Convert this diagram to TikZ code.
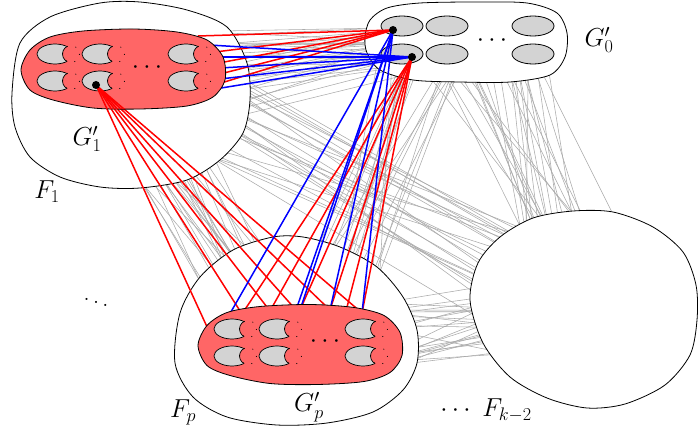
\RequirePackage{fix-cm}
\documentclass[tikz,border=0pt]{standalone}
\definecolor{redfill}{RGB}{255,102,102}
\definecolor{cgray}{RGB}{211,211,211}
\definecolor{meshgray}{RGB}{170,170,170}
\definecolor{lred}{RGB}{255,0,0}
\definecolor{lblue}{RGB}{0,0,255}
\newcommand{\meshset}[9]{%
  \foreach \mi in {1,...,#1}{%
    \pgfmathsetmacro\ax{#2+#3*rnd}\pgfmathsetmacro\ay{#4+#5*rnd}%
    \pgfmathsetmacro\bx{#6+#7*rnd}\pgfmathsetmacro\by{#8+#9*rnd}%
    \draw[mesh] (\ax,\ay) -- (\bx,\by);}}
\newcommand{\redshapepath}[1]{\path[#1] plot[smooth cycle] coordinates {(-103,2) (-94,-18) (-74,-31) (-41,-37) (9,-39) (53,-36) (83,-28) (99,-11) (101,12) (89,29) (63,38) (16,41) (-31,40) (-71,32) (-94,22)};}
\tikzset{cres/.pic={
  \draw[fill=cgray,line width=0.7pt] (0,0) ellipse [x radius=18, y radius=10];
  \fill[redfill] (16,0) circle [radius=8.5];
  \draw[line width=0.7pt,dash pattern=on 0.9pt off 8pt] (16,0) circle [radius=8.5];
  \begin{scope}
    \clip (0,0) ellipse [x radius=18, y radius=10];
    \draw[line width=0.7pt] (16,0) circle [radius=8.5];
  \end{scope}
}}
\begin{document}
\begin{tikzpicture}[x=1pt,y=-1pt,
  blob/.style={draw=black,fill=white,line width=0.8pt},
  mesh/.style={draw=meshgray,line width=0.55pt},
  rl/.style={draw=lred,line width=1.5pt},
  bl/.style={draw=lblue,line width=1.5pt},
  lbl/.style={font=\fontsize{26}{30}\selectfont,inner sep=0pt},
  blackdot/.style={circle,fill=black,inner sep=0pt,minimum size=8pt},
  gell/.style={draw=black,fill=cgray,line width=0.8pt}]
\useasboundingbox (0,0) rectangle (698,433);
\pgfmathsetseed{12345}
% gray mesh between the parts
\meshset{28}{160}{60}{30}{100}{390}{150}{20}{45}
\meshset{25}{100}{95}{110}{55}{215}{90}{290}{90}
\meshset{25}{160}{55}{50}{100}{510}{110}{250}{100}
\meshset{28}{420}{130}{30}{40}{520}{120}{240}{100}
\meshset{20}{380}{90}{30}{40}{270}{110}{285}{75}
\meshset{25}{320}{70}{300}{80}{510}{110}{270}{90}
% blobs
\path[blob] plot[smooth cycle] coordinates {(12,93) (20,43) (50,17) (100,3) (140,2) (187,10) (227,27) (247,63) (250,100) (243,133) (220,160) (187,180) (140,188) (100,187) (60,177) (30,157) (15,127)};
\path[blob] plot[smooth cycle] coordinates {(365,37) (370,20) (387,8) (420,3) (477,2) (527,3) (557,13) (567,33) (565,57) (550,75) (510,82) (460,82) (413,80) (380,70) (367,53)};
\path[blob] plot[smooth cycle] coordinates {(175,363) (180,313) (200,277) (233,250) (273,237) (303,237) (340,247) (377,267) (403,297) (417,330) (417,363) (403,390) (373,412) (327,423) (277,425) (227,417) (193,397)};
\path[blob] plot[smooth cycle] coordinates {(470,300) (478,263) (500,237) (533,218) (573,211) (613,212) (653,227) (683,252) (696,285) (697,320) (690,355) (665,385) (625,404) (587,408) (547,398) (510,377) (483,343)};
% G'_0 vertices
\foreach \cx/\cy in {402/26,447/26,533/26,402/54,447/54,533/54}
  \draw[gell] (\cx,\cy) ellipse [x radius=21, y radius=10];
\node[lbl] (dG0) at (492,41) {$\cdots$};
% coordinates
\coordinate (dA) at (393,30);
\coordinate (dB) at (412,57);
\coordinate (dC) at (96,85);
\foreach \n/\px/\py in {1/198/36,2/209/45,3/215/52,4/218/57,5/219/63,6/220/68,7/220/74,8/220/79,9/218/84,10/215/89}
  \coordinate (a\n) at (\px,\py);
\foreach \n/\px/\py in {1/208/329,2/228/317,3/242/314,4/270/311,5/296/310,6/300/310,7/313/309,8/330/310,9/346/311,10/362/313}
  \coordinate (q\n) at (\px,\py);
% coloured edges
\foreach \n in {1,3,5,7,9} \draw[rl] (dA) -- (a\n);
\foreach \n in {2,4,6,8,10} \draw[bl] (dB) -- (a\n);
\foreach \n in {1,3,4,5,8,10} \draw[rl] (dC) -- (q\n);
\foreach \n in {3,4,6,8,9,10} \draw[rl] (dB) -- (q\n);
\foreach \n in {2,5,6,8,10} \draw[bl] (dA) -- (q\n);
% G'_1
\begin{scope}[shift={(124,68)}]
  \redshapepath{draw,fill=redfill,line width=0.8pt}
\end{scope}
\foreach \cx/\cy in {55/54,100/54,186/54,55/81,100/81,186/81}
  \pic at (\cx,\cy) {cres};
\node[lbl] (dG1) at (147,68) {$\cdots$};
% G'_p
\begin{scope}[shift={(301,343.5)}]
  \redshapepath{draw,fill=redfill,line width=0.8pt}
\end{scope}
\foreach \cx/\cy in {232/329,277/329,363/329,232/356,277/356,363/356}
  \pic at (\cx,\cy) {cres};
\node[lbl] (dGp) at (325,342) {$\cdots$};
% red edges from the vertex of G'_1, visible over its fill
\begin{scope}
  \begin{scope}[shift={(124,68)}]
    \redshapepath{clip}
    \foreach \n in {1,3,4,5,8,10} \draw[rl] (dC) -- (q\n);
  \end{scope}
\end{scope}
% vertices
\node[blackdot] (vA) at (dA) {};
\node[blackdot] (vB) at (dB) {};
\node[blackdot] (vC) at (dC) {};
% labels
\node[lbl] (lG1) at (87,139) {$G'_1$};
\node[lbl] (lF1) at (47,192) {$F_1$};
\node[lbl] (lG0) at (599,40) {$G'_0$};
\node[lbl] (lFp) at (183,412) {$F_p$};
\node[lbl] (lGp) at (309,407) {$G'_p$};
\node[lbl] (lFk) at (486,410) {$\cdots\;F_{k-2}$};
\node[lbl] (vd) at (96,299) {$\ddots$};
\end{tikzpicture}
\end{document}
